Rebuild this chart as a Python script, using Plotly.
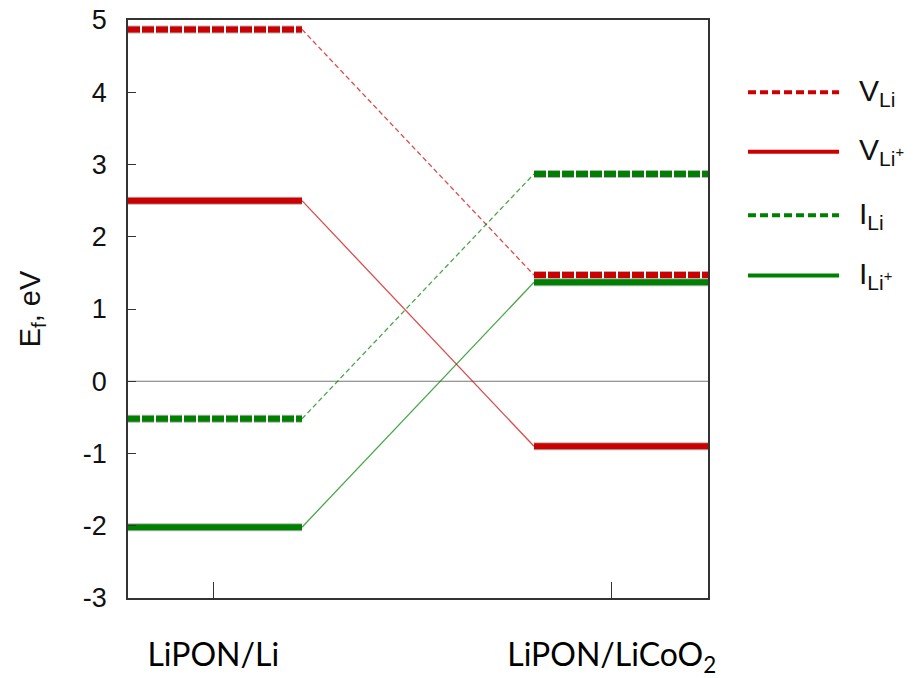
import plotly.graph_objects as go

# Formation energies (eV) of Li defects at the two interfaces
interfaces = ["LiPON/Li", "LiPON/LiCoO<sub>2</sub>"]
series_names = ["V<sub>Li</sub>", "V<sub>Li<sup>+</sup></sub>", "I<sub>Li</sub>", "I<sub>Li<sup>+</sup></sub>"]
e_lipon_li = [4.87, 2.50, -0.52, -2.02]
e_lipon_licoo2 = [1.47, -0.90, 2.87, 1.37]
energy_ticks = [-3, -2, -1, 0, 1, 2, 3, 4, 5]
energy_tick_text = ["-3", "-2", "-1", "0", "1", "2", "3", "4", "5"]
colors = ["#cc0000", "#cc0000", "#008000", "#008000"]
dashed = [True, False, True, False]

# x layout of the level diagram: left level, gap, right level
left_span = (0.0, 3.0)
right_span = (7.0, 10.0)
tick_pos = [1.47, 8.34]

fig = go.Figure()

# zero reference line
fig.add_trace(go.Scatter(x=[0, 10], y=[0, 0], mode="lines",
                         line=dict(color="#777777", width=1),
                         showlegend=False, hoverinfo="skip"))

# thin connectors between the two interfaces
for name, yl, yr, c, d in zip(series_names, e_lipon_li, e_lipon_licoo2, colors, dashed):
    fig.add_trace(go.Scatter(
        x=[left_span[1], right_span[0]], y=[yl, yr], mode="lines",
        line=dict(color=c, width=1.3, dash="5px,3px" if d else "solid"),
        opacity=0.7, showlegend=False, hoverinfo="skip"))

# thick energy levels with a light grey rim
for name, yl, yr, c, d in zip(series_names, e_lipon_li, e_lipon_licoo2, colors, dashed):
    xs = [left_span[0], left_span[1], None, right_span[0], right_span[1]]
    ys = [yl, yl, None, yr, yr]
    dash = "12px,2px" if d else "solid"
    fig.add_trace(go.Scatter(x=xs, y=ys, mode="lines",
                             line=dict(color="#b4b4b4", width=8, dash=dash),
                             showlegend=False, hoverinfo="skip"))
    fig.add_trace(go.Scatter(x=xs, y=ys, mode="lines", name=name,
                             line=dict(color=c, width=6, dash=dash),
                             showlegend=False))

# legend drawn at the right of the frame
legend_y = [0.875, 0.772, 0.662, 0.558]
for name, c, d, ly in zip(series_names, colors, dashed, legend_y):
    fig.add_shape(type="line", xref="paper", yref="paper",
                  x0=1.069, x1=1.226, y0=ly, y1=ly,
                  line=dict(color=c, width=4, dash="8px,4px" if d else "solid"))
    fig.add_annotation(xref="paper", yref="paper", x=1.257, y=ly,
                       xanchor="left", yanchor="middle", showarrow=False,
                       text=name, font=dict(family="Liberation Sans", size=30, color="#111111"))

fig.update_xaxes(range=[0, 10], tickvals=tick_pos, ticktext=interfaces,
                 ticks="inside", ticklen=16, tickcolor="#333333",
                 showgrid=False, zeroline=False, automargin=False,
                 showline=True, linecolor="#333333", linewidth=1.5, mirror=True,
                 ticklabelstandoff=28,
                 tickfont=dict(family="Lato", size=32, color="#000000"))
fig.update_yaxes(range=[-3, 5], tickvals=energy_ticks, ticktext=energy_tick_text,
                 ticks="inside", ticklen=8, tickcolor="#333333",
                 showgrid=False, zeroline=False, automargin=False,
                 showline=True, linecolor="#333333", linewidth=1.5, mirror=True,
                 ticklabelstandoff=14,
                 tickfont=dict(family="Liberation Sans", size=27, color="#111111"),
                 title=dict(text="E<sub>f</sub>, eV", standoff=34,
                            font=dict(family="Liberation Sans", size=29, color="#111111")))

fig.update_layout(width=922, height=678,
                  margin=dict(l=128, r=214, t=20, b=80, autoexpand=False),
                  plot_bgcolor="white", paper_bgcolor="white")

fig.write_html("out.html")
